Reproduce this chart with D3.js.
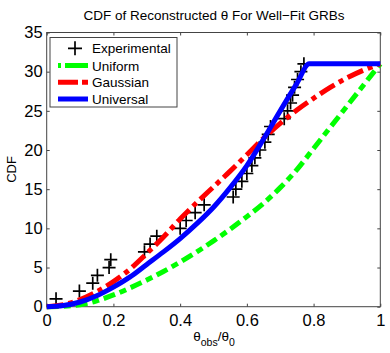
<!DOCTYPE html>
<html lang="en">
<head>
    <meta charset="UTF-8">
    <title>CDF</title>
    <script src="https://cdn.jsdelivr.net/npm/d3@7"></script>
    <style>
        body { margin: 0; background: #fff; }
        text { font-family: "Liberation Sans", Arial, sans-serif; }
    </style>
</head>
<body>
<script>
    var width = 390;
    var height = 353;

    // experimental points (theta_obs/theta_0, cumulative count)
    var expX = [0.028, 0.098, 0.138, 0.152, 0.187, 0.192, 0.293, 0.310, 0.330, 0.400,
        0.418, 0.445, 0.472, 0.559, 0.567, 0.585, 0.600, 0.615, 0.624, 0.639,
        0.654, 0.664, 0.671, 0.712, 0.722, 0.731, 0.737, 0.743, 0.752, 0.762, 0.771];
    var expY = [1, 2, 3, 4, 5, 6, 7, 8, 9, 10, 11, 12, 13, 14, 15, 16, 17, 18, 19, 20,
        21, 22, 23, 24, 25, 26, 27, 28, 29, 30, 31];

    // model curves
    var modelX = [0, 0.05, 0.1, 0.15, 0.2, 0.25, 0.3, 0.35, 0.4, 0.45, 0.5,
        0.55, 0.6, 0.65, 0.7, 0.75, 0.8, 0.85, 0.9, 0.95, 1];
    var uniformY = [0, 0.05, 0.25, 0.75, 1.5, 2.4, 3.4, 4.5, 5.7, 7.0, 8.4,
        9.9, 11.5, 13.2, 15.2, 17.5, 20.2, 22.9, 25.6, 28.3, 31];
    var gaussianY = [0, 0.25, 0.9, 1.9, 3.2, 4.8, 6.8, 8.9, 11.2, 13.3, 15.3,
        17.3, 19.4, 21.5, 23.4, 25.1, 26.6, 28.0, 29.2, 30.2, 31];
    var universalX = [0, 0.05, 0.1, 0.15, 0.2, 0.25, 0.3, 0.35, 0.4, 0.45, 0.5,
        0.55, 0.6, 0.65, 0.7, 0.75, 0.787, 0.85, 0.9, 1];
    var universalY = [0, 0.15, 0.6, 1.4, 2.5, 3.8, 5.4, 7.0, 8.7, 10.6, 12.7,
        15.2, 18.0, 21.4, 25.0, 28.5, 31, 31, 31, 31];

    var xTicks = [0, 0.2, 0.4, 0.6, 0.8, 1];
    var yTicks = [0, 5, 10, 15, 20, 25, 30, 35];
    var legendNames = ["Experimental", "Uniform", "Gaussian", "Universal"];

    var x = d3.scaleLinear().domain([0, 1]).range([46.7, 380.3]);
    var y = d3.scaleLinear().domain([0, 35]).range([306.7, 32.5]);

    var svg = d3.select("body").append("svg")
            .attr("width", width)
            .attr("height", height);

    // title
    svg.append("text")
            .attr("x", 214).attr("y", 19.5)
            .attr("text-anchor", "middle")
            .style("font-size", "13.5px")
            .text("CDF of Reconstructed \u03b8 For Well\u2212Fit GRBs");

    // axes, ticks inward like matlab
    var axBottom = svg.append("g").attr("transform", "translate(0," + y(0) + ")")
            .call(d3.axisBottom(x).tickValues(xTicks).tickSizeInner(-3).tickSizeOuter(0).tickPadding(8)
                    .tickFormat(function (d) { return d === 0 || d === 1 ? d : d.toFixed(1); }));
    var axTop = svg.append("g").attr("transform", "translate(0," + y(35) + ")")
            .call(d3.axisTop(x).tickValues(xTicks).tickSizeInner(-3).tickSizeOuter(0).tickFormat(""));
    var axLeft = svg.append("g").attr("transform", "translate(" + x(0) + ",0)")
            .call(d3.axisLeft(y).tickValues(yTicks).tickSizeInner(-3).tickSizeOuter(0).tickPadding(4));
    var axRight = svg.append("g").attr("transform", "translate(" + x(1) + ",0)")
            .call(d3.axisRight(y).tickValues(yTicks).tickSizeInner(-3).tickSizeOuter(0).tickFormat(""));

    [axBottom, axTop, axLeft, axRight].forEach(function (g) {
        g.select(".domain").remove();
        g.selectAll("line").attr("stroke", "#444");
        g.selectAll("text").attr("fill", "#000").style("font-size", "16.5px")
                .style("font-family", "Liberation Sans, Arial, sans-serif");
    });

    svg.append("rect")
            .attr("x", x(0)).attr("y", y(35))
            .attr("width", x(1) - x(0)).attr("height", y(0) - y(35))
            .attr("fill", "none").attr("stroke", "#444").attr("stroke-width", 1);

    // axis labels
    var xl = svg.append("text")
            .attr("x", 214).attr("y", 341)
            .attr("text-anchor", "middle")
            .style("font-size", "13.5px");
    xl.append("tspan").text("\u03b8");
    xl.append("tspan").attr("dy", 5).style("font-size", "10.5px").text("obs");
    xl.append("tspan").attr("dy", -5).text("/\u03b8");
    xl.append("tspan").attr("dy", 5).style("font-size", "10.5px").text("0");

    svg.append("text")
            .attr("transform", "translate(16,169.5) rotate(-90)")
            .attr("text-anchor", "middle")
            .style("font-size", "13px")
            .text("CDF");

    // experimental crosses
    var pts = expX.map(function (d, i) { return {x: d, y: expY[i]}; });
    function cross(sel, cx, cy, r) {
        sel.append("path")
                .attr("d", "M" + (cx - r) + "," + cy + "H" + (cx + r) + "M" + cx + "," + (cy - r) + "V" + (cy + r))
                .attr("stroke", "#000").attr("stroke-width", 1.7).attr("fill", "none");
    }
    var ptG = svg.append("g");
    pts.forEach(function (p) { cross(ptG, x(p.x), y(p.y), 6.5); });

    var line = d3.line()
            .x(function (d) { return x(d[0]); })
            .y(function (d) { return y(d[1]); })
            .curve(d3.curveMonotoneX);

    var series = [
        {xs: modelX, ys: uniformY, color: "#00ff00", dash: "12,5,7,5"},
        {xs: modelX, ys: gaussianY, color: "#ff0000", dash: "17,5,5,5"},
        {xs: universalX, ys: universalY, color: "#0000ff", dash: null}
    ];

    series.forEach(function (s) {
        svg.append("path")
                .datum(s.xs.map(function (d, i) { return [d, s.ys[i]]; }))
                .attr("d", line)
                .attr("fill", "none")
                .attr("stroke", s.color)
                .attr("stroke-width", 5)
                .attr("stroke-dasharray", s.dash);
    });

    // legend
    var lg = svg.append("g");
    lg.append("rect")
            .attr("x", 50).attr("y", 37.5).attr("width", 127).attr("height", 69.5)
            .attr("fill", "#fff").attr("stroke", "#444").attr("stroke-width", 1);
    var rowY = [48.3, 65.5, 82.3, 99];
    cross(lg, 75, rowY[0], 7);
    series.forEach(function (s, i) {
        lg.append("line")
                .attr("x1", 58).attr("x2", 88)
                .attr("y1", rowY[i + 1]).attr("y2", rowY[i + 1])
                .attr("stroke", s.color).attr("stroke-width", 5)
                .attr("stroke-dasharray", i === 0 ? "3,4,23,4" : i === 1 ? "20,4,6,4" : null);
    });
    legendNames.forEach(function (n, i) {
        lg.append("text")
                .attr("x", 92).attr("y", rowY[i] + 5)
                .style("font-size", "13.5px")
                .text(n);
    });
</script>
</body>
</html>
